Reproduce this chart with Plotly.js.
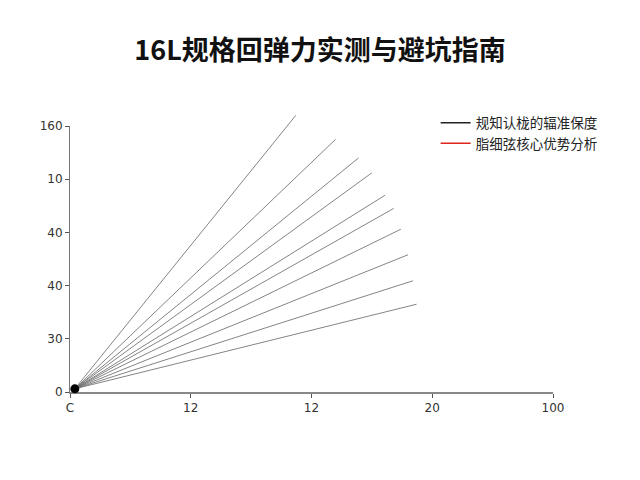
<!DOCTYPE html>
<html><head><meta charset="utf-8">
<script src="https://cdn.plot.ly/plotly-3.0.1.min.js"></script>
<style>body{margin:0;background:#fff}#c{width:640px;height:480px}</style>
</head><body><div id="c"></div>
<script>
// Data
var originX = 0.04, originY = 0.06;
var endX = [1.87, 2.20, 2.39, 2.50, 2.61, 2.68, 2.74, 2.80, 2.84, 2.87];
var endY = [5.20, 4.75, 4.40, 4.12, 3.70, 3.45, 3.06, 2.58, 2.09, 1.65];
var xTickVals = [0, 1, 2, 3, 4];
var xTickText = ['C', '12', '12', '20', '100'];
var yTickVals = [0, 1, 2, 3, 4, 5];
var yTickText = ['0', '30', '40', '40', '10', '160'];
var legendNames = ['规知认栊的辐准保度', '脂细弦核心优势分析'];
var legendColors = ['#222222', '#e0241b'];

var traces = [];
// empty trace so the visible y axis subplot is created
traces.push({x: [null], y: [null], yaxis: 'y', mode: 'lines', type: 'scatter', showlegend: false, hoverinfo: 'skip'});
for (var i = 0; i < endX.length; i++) {
  traces.push({
    x: [originX, endX[i]], y: [originY, endY[i]], yaxis: 'y2',
    mode: 'lines', type: 'scatter', showlegend: false,
    line: {color: 'rgba(110,110,110,0.85)', width: 1}, hoverinfo: 'skip'
  });
}
traces.push({x: [originX], y: [originY], yaxis: 'y2', mode: 'markers', type: 'scatter', showlegend: false,
  cliponaxis: false, marker: {color: '#000', size: 9}});
for (var j = 0; j < legendNames.length; j++) {
  traces.push({x: [null], y: [null], yaxis: 'y2', mode: 'lines', type: 'scatter', name: legendNames[j],
    line: {color: legendColors[j], width: 1.5}});
}

var plotH = 280, yPx = 53.2;
var layout = {
  width: 640, height: 480,
  paper_bgcolor: '#fff', plot_bgcolor: '#fff',
  margin: {l: 70, r: 87, t: 480 - 88 - plotH, b: 88},
  font: {family: 'Noto Sans CJK SC, Noto Sans, sans-serif', color: '#333', size: 12},
  title: {text: '<b>16L规格回弹力实测与避坑指南</b>', x: 0.5, xanchor: 'center', y: 0.895, yanchor: 'middle',
    font: {size: 27, color: '#111', family: 'Noto Sans CJK SC, sans-serif'}},
  xaxis: {range: [0, 4], tickvals: xTickVals, ticktext: xTickText, showgrid: false, zeroline: false,
    showline: true, linecolor: '#888', linewidth: 1.5, ticks: 'outside', ticklen: 4, tickcolor: '#555',
    anchor: 'y', tickfont: {size: 12, color: '#333', family: 'DejaVu Sans, sans-serif'}},
  yaxis: {range: [0, 5], domain: [0, 5 * yPx / plotH], tickvals: yTickVals, ticktext: yTickText,
    showgrid: false, zeroline: false, anchor: 'x',
    showline: true, linecolor: '#777', linewidth: 1, ticks: 'outside', ticklen: 4, tickcolor: '#555',
    tickfont: {size: 12, color: '#333', family: 'DejaVu Sans, sans-serif'}},
  yaxis2: {range: [0, plotH / yPx], domain: [0, 1], anchor: 'x', visible: false, showgrid: false, zeroline: false},
  legend: {x: 0.757, xanchor: 'left', y: 1.016, yanchor: 'top', bgcolor: 'rgba(0,0,0,0)',
    font: {size: 13.5, color: '#222'}, tracegroupgap: 0},
  showlegend: true
};
Plotly.newPlot('c', traces, layout, {displayModeBar: false, staticPlot: true});
</script></body></html>
